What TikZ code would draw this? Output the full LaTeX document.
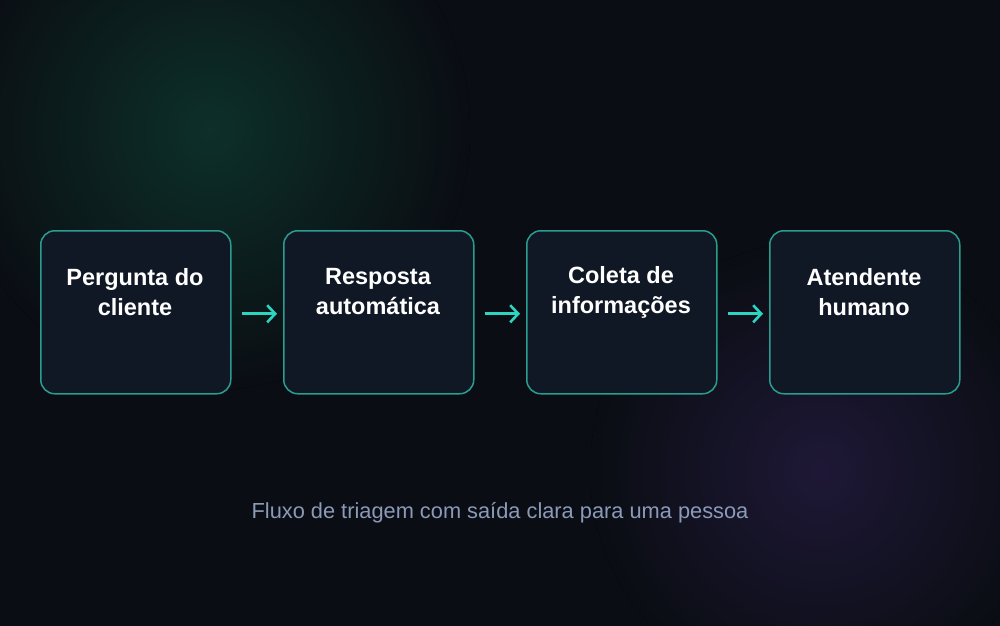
\documentclass[tikz,border=0pt]{standalone}
\usepackage{fontspec}
\setmainfont{Liberation Sans}
\usetikzlibrary{arrows.meta}
\definecolor{bg}{HTML}{0A0D13}
\definecolor{boxfill}{HTML}{111825}
\definecolor{boxline}{HTML}{2A9D8F}
\definecolor{arr}{HTML}{2DD4BF}
\definecolor{cap}{HTML}{8A9AB8}
\definecolor{glowg}{HTML}{0D3029}
\definecolor{glowp}{HTML}{1E1836}
\begin{document}
\begin{tikzpicture}[x=1pt,y=-1pt,
  box/.style={draw=boxline,line width=1.5pt,fill=boxfill,rounded corners=14pt,minimum width=190pt,minimum height=163pt,anchor=north west,inner sep=0pt},
  lbl/.style={text=white,font=\bfseries\fontsize{23.5}{30}\selectfont,align=center},
  link/.style={draw=arr,line width=2.6pt,-{Straight Barb[length=8pt,width=17pt,line width=2.6pt]}}]
\useasboundingbox (0,0) rectangle (1000,625);
\fill[bg] (-5,-5) rectangle (1005,630);
\begin{scope}
\clip (0,0) rectangle (1000,625);
\fill[inner color=glowg,outer color=bg] (210,130) circle (260);
\fill[inner color=glowp,outer color=bg] (820,470) circle (230);
\end{scope}
\node[box] (a) at (40,230) {};
\node[box] (b) at (283,230) {};
\node[box] (c) at (526,230) {};
\node[box] (d) at (769,230) {};
\node[lbl] at (135,292) {Pergunta do\\cliente};
\node[lbl] at (378,292) {Resposta\\automática};
\node[lbl] at (621,292) {Coleta de\\informações};
\node[lbl] at (864,292) {Atendente\\humano};
\draw[link] ([xshift=10pt,yshift=-1.5pt]a.east) -- ([xshift=-6pt,yshift=-1.5pt]b.west);
\draw[link] ([xshift=10pt,yshift=-1.5pt]b.east) -- ([xshift=-6pt,yshift=-1.5pt]c.west);
\draw[link] ([xshift=10pt,yshift=-1.5pt]c.east) -- ([xshift=-6pt,yshift=-1.5pt]d.west);
\node[text=cap,font=\fontsize{21.8}{24}\selectfont] (t) at (500,513) {Fluxo de triagem com saída clara para uma pessoa};
\end{tikzpicture}
\end{document}
